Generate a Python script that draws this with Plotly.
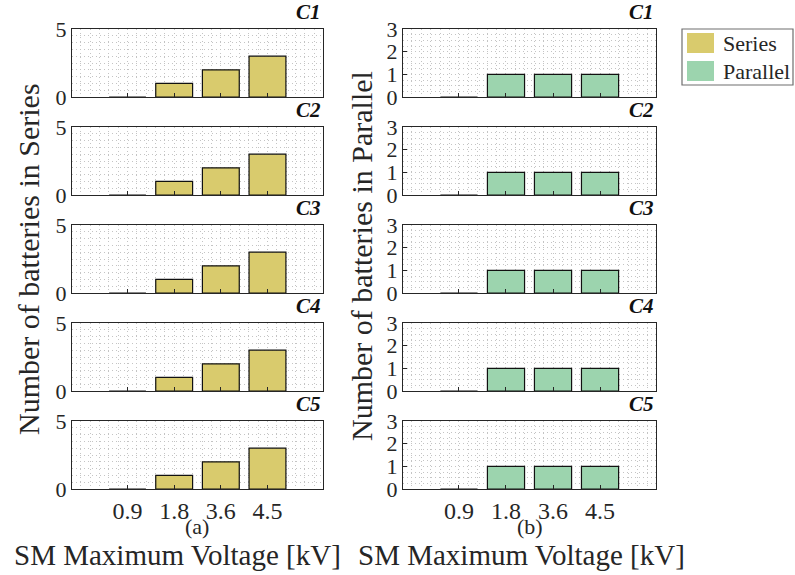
import plotly.graph_objects as go

# ---- data ----
categories = ["0.9", "1.8", "3.6", "4.5"]
cases = ["C1", "C2", "C3", "C4", "C5"]
series_counts = {
    "C1": [0, 1, 2, 3],
    "C2": [0, 1, 2, 3],
    "C3": [0, 1, 2, 3],
    "C4": [0, 1, 2, 3],
    "C5": [0, 1, 2, 3],
}
parallel_counts = {
    "C1": [0, 1, 1, 1],
    "C2": [0, 1, 1, 1],
    "C3": [0, 1, 1, 1],
    "C4": [0, 1, 1, 1],
    "C5": [0, 1, 1, 1],
}
series_ticks = [0, 5]
parallel_ticks = [0, 1, 2, 3]

# ---- styling ----
W, H = 795, 575
FONT = "Liberation Serif"
SER_COL = "#D9CB6D"
PAR_COL = "#9CD4AE"
AX_COL = "#262626"
GRID_COL = "#c4c4c4"
GRID_DASH = "1px,3px"

def px_x(x):
    return x / W

def px_y(y):
    return 1 - y / H

xpos = list(range(1, len(categories) + 1))
left_dom = [px_x(72), px_x(323)]
right_dom = [px_x(403), px_x(656)]
row_tops = [29 + 98 * i for i in range(5)]
row_h = 68

fig = go.Figure()
layout = {}
annotations = []

n = 0
for r, case in enumerate(cases):
    for c in range(2):
        n += 1
        xa = "x" if n == 1 else f"x{n}"
        ya = "y" if n == 1 else f"y{n}"
        vals = series_counts[case] if c == 0 else parallel_counts[case]
        col = SER_COL if c == 0 else PAR_COL
        fig.add_trace(go.Bar(
            x=xpos, y=vals, xaxis=xa, yaxis=ya, width=0.79,
            marker=dict(color=col, line=dict(color="#111111", width=1.2)),
            showlegend=False,
        ))
        dom = left_dom if c == 0 else right_dom
        top = row_tops[r]
        bot = top + row_h
        last = r == len(cases) - 1
        layout["xaxis" if n == 1 else f"xaxis{n}"] = dict(
            domain=dom, anchor=ya, range=[-0.19, 5.19], automargin=False,
            tickmode="array", tickvals=xpos, ticktext=categories,
            showticklabels=last, ticks="inside", ticklen=4, tickcolor=AX_COL,
            showline=True, linecolor=AX_COL, linewidth=1.3, mirror=True,
            showgrid=True, gridcolor=GRID_COL, griddash=GRID_DASH, gridwidth=1,
            minor=dict(tick0=0, dtick=0.2, showgrid=True, gridcolor=GRID_COL,
                       griddash=GRID_DASH, gridwidth=1),
            zeroline=False, fixedrange=True,
            tickfont=dict(family=FONT, size=24, color=AX_COL),
        )
        yt = series_ticks if c == 0 else parallel_ticks
        layout["yaxis" if n == 1 else f"yaxis{n}"] = dict(
            domain=[px_y(bot), px_y(top)], anchor=xa, automargin=False,
            range=[yt[0], yt[-1]], tickmode="array", tickvals=yt,
            ticks="inside", ticklen=4, tickcolor=AX_COL,
            showline=True, linecolor=AX_COL, linewidth=1.3, mirror=True,
            showgrid=True, gridcolor=GRID_COL, griddash=GRID_DASH, gridwidth=1,
            minor=dict(tick0=0, dtick=0.5 if c == 0 else 0.25, showgrid=True,
                       gridcolor=GRID_COL, griddash=GRID_DASH, gridwidth=1),
            zeroline=False, fixedrange=True,
            tickfont=dict(family=FONT, size=22, color=AX_COL),
        )
        annotations.append(dict(
            text=f"<b><i>{case}</i></b>", xref="paper", yref="paper",
            x=dom[1], y=px_y(top - 3), xanchor="right", yanchor="bottom",
            showarrow=False, font=dict(family=FONT, size=21, color="#111111"),
        ))

# subplot letters and axis titles
annotations += [
    dict(text="(a)", x=px_x(197), y=px_y(526), xanchor="center", yanchor="middle"),
    dict(text="(b)", x=px_x(530), y=px_y(526), xanchor="center", yanchor="middle"),
    dict(text="SM Maximum Voltage [kV]", x=px_x(177), y=px_y(555),
         xanchor="center", yanchor="middle", font=dict(family=FONT, size=29, color=AX_COL)),
    dict(text="SM Maximum Voltage [kV]", x=px_x(521), y=px_y(555),
         xanchor="center", yanchor="middle", font=dict(family=FONT, size=29, color=AX_COL)),
    dict(text="Number of batteries in Series", x=px_x(28), y=px_y(259), textangle=-90,
         xanchor="center", yanchor="middle", font=dict(family=FONT, size=30, color=AX_COL)),
    dict(text="Number of batteries in Parallel", x=px_x(362), y=px_y(256), textangle=-90,
         xanchor="center", yanchor="middle", font=dict(family=FONT, size=30, color=AX_COL)),
    dict(text="Series", x=px_x(721), y=px_y(43), xanchor="left", yanchor="middle",
         font=dict(family=FONT, size=22, color=AX_COL)),
    dict(text="Parallel", x=px_x(721), y=px_y(71), xanchor="left", yanchor="middle",
         font=dict(family=FONT, size=22, color=AX_COL)),
]
for a in annotations:
    a.setdefault("xref", "paper")
    a.setdefault("yref", "paper")
    a.setdefault("showarrow", False)
    a.setdefault("font", dict(family=FONT, size=22, color=AX_COL))

shapes = [
    dict(type="rect", xref="paper", yref="paper", x0=px_x(682), x1=px_x(793),
         y0=px_y(85), y1=px_y(29), line=dict(color="#6e6e6e", width=1.2), fillcolor="white"),
    dict(type="rect", xref="paper", yref="paper", x0=px_x(687), x1=px_x(714),
         y0=px_y(53), y1=px_y(33), line=dict(width=0), fillcolor=SER_COL),
    dict(type="rect", xref="paper", yref="paper", x0=px_x(687), x1=px_x(714),
         y0=px_y(81), y1=px_y(61), line=dict(width=0), fillcolor=PAR_COL),
]

fig.update_layout(
    width=W, height=H, margin=dict(l=0, r=0, t=0, b=0),
    paper_bgcolor="white", plot_bgcolor="white",
    annotations=annotations, shapes=shapes, bargap=0.2,
    **layout,
)
fig.write_html("out.html")
